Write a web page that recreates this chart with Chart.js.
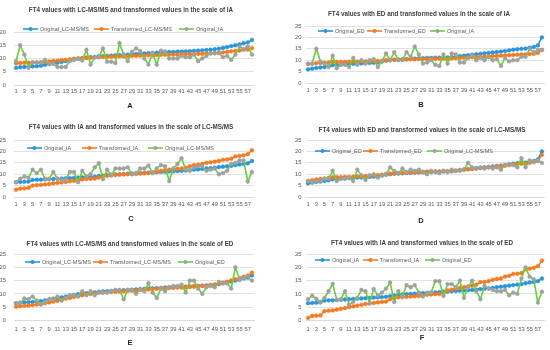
<!DOCTYPE html>
<html>
<head>
<meta charset="utf-8">
<script src="https://cdn.jsdelivr.net/npm/chart.js@4.4.1/dist/chart.umd.min.js"></script>
<style>
  html, body { margin: 0; padding: 0; background: #fff; }
  #wrap { position: relative; width: 550px; height: 350px; overflow: hidden; }
  #wrap canvas { position: absolute; }
</style>
</head>
<body>
<div id="wrap"></div>
<script>
// ==========================
// Data
// ==========================

const cases = [1, 2, 3, 4, 5, 6, 7, 8, 9, 10, 11, 12, 13, 14, 15, 16, 17, 18, 19, 20,
  21, 22, 23, 24, 25, 26, 27, 28, 29, 30, 31, 32, 33, 34, 35, 36, 37, 38, 39, 40,
  41, 42, 43, 44, 45, 46, 47, 48, 49, 50, 51, 52, 53, 54, 55, 56, 57, 58];

// original values, sorted
const lcSorted = [6.5, 6.7, 6.8, 6.9, 7.0, 7.1, 7.3, 7.6, 7.9, 8.2,
  8.4, 8.7, 9.0, 9.3, 9.6, 9.9, 10.1, 10.3, 10.5, 10.6,
  10.8, 10.9, 11.0, 11.1, 11.2, 11.3, 11.4, 11.5, 11.6, 11.7,
  11.8, 11.9, 12.0, 12.1, 12.2, 12.3, 12.4, 12.5, 12.5, 12.6,
  12.6, 12.7, 12.8, 12.9, 13.0, 13.1, 13.2, 13.3, 13.5, 13.7,
  14.0, 14.3, 14.7, 15.0, 15.3, 15.8, 16.1, 17.0];

const iaSorted = [6.5, 6.6, 6.7, 6.8, 7.5, 7.6, 7.6, 7.7, 7.8, 7.9,
  8.0, 8.1, 8.2, 8.3, 8.4, 8.5, 8.6, 8.7, 8.8, 8.9,
  9.2, 9.4, 9.6, 9.8, 9.9, 10.0, 10.1, 10.2, 10.3, 10.4,
  10.5, 10.6, 10.7, 10.8, 10.9, 11.0, 11.1, 11.2, 11.3, 11.4,
  11.5, 11.6, 11.8, 12.0, 12.1, 12.3, 12.5, 12.7, 12.9, 13.1,
  13.3, 13.5, 13.7, 14.0, 14.3, 14.5, 14.8, 15.8];

const edSorted = [6.0, 6.3, 6.6, 6.8, 7.0, 7.3, 7.8, 8.0, 8.1, 8.2,
  8.3, 8.4, 8.5, 8.6, 8.7, 8.8, 8.9, 9.1, 9.4, 9.8,
  10.0, 10.2, 10.3, 10.4, 10.5, 10.6, 10.7, 10.8, 10.9, 11.0,
  11.0, 11.1, 11.1, 11.2, 11.2, 11.3, 11.5, 11.8, 12.0, 12.2,
  12.4, 12.6, 12.8, 13.0, 13.2, 13.4, 13.6, 13.8, 14.0, 14.3,
  14.6, 14.8, 15.0, 15.1, 15.5, 15.8, 16.5, 20.0];

// A: LC-MS/MS -> IA
const transLcToIa = [8.2, 8.3, 8.4, 8.4, 8.5, 8.5, 8.6, 8.8, 8.9, 9.1,
  9.2, 9.4, 9.5, 9.7, 9.9, 10.0, 10.1, 10.2, 10.3, 10.4,
  10.5, 10.6, 10.6, 10.7, 10.7, 10.8, 10.8, 10.9, 11.0, 11.0,
  11.1, 11.1, 11.2, 11.2, 11.3, 11.4, 11.4, 11.5, 11.5, 11.5,
  11.6, 11.6, 11.7, 11.7, 11.8, 11.8, 11.9, 11.9, 12.0, 12.2,
  12.3, 12.5, 12.7, 12.9, 13.0, 13.3, 13.4, 13.9];
const iaInLcOrder = [9, 15, 11.5, 6.5, 8.5, 8.5, 8.5, 9.5, 8, 8,
  6.8, 6.8, 6.8, 9, 9.5, 10, 9.2, 13.3, 7.7, 10.5,
  10.5, 13.8, 8.8, 8.8, 8.3, 15.8, 11.5, 9, 12.5, 13.8,
  12.8, 10, 7.7, 12, 7.7, 13, 12.7, 10, 10, 10,
  11, 10.5, 10.5, 11.5, 9, 10, 11, 12, 12, 12,
  10.5, 11, 9.5, 11.5, 14.5, 13.5, 14.5, 11.5];

// B: ED -> IA
const transEdToIa = [8.3, 8.5, 8.7, 8.8, 8.9, 9.0, 9.2, 9.3, 9.3, 9.3,
  9.4, 9.4, 9.4, 9.5, 9.5, 9.5, 9.6, 9.7, 9.8, 10.0,
  10.1, 10.2, 10.2, 10.3, 10.3, 10.4, 10.4, 10.5, 10.5, 10.6,
  10.6, 10.6, 10.7, 10.7, 10.7, 10.8, 10.9, 11.0, 11.1, 11.2,
  11.3, 11.4, 11.5, 11.6, 11.7, 11.8, 11.9, 12.0, 12.1, 12.2,
  12.3, 12.4, 12.5, 12.5, 12.7, 12.8, 13.2, 14.5];
const iaInEdOrder = [8.5, 8.5, 15, 9.5, 8.5, 7, 12, 6.5, 8, 8,
  7, 11, 8, 10, 8.5, 10, 10.5, 7, 9.5, 13,
  10, 13.5, 10, 10, 13.5, 11.5, 16, 12.5, 8.5, 9,
  10, 8, 7.5, 12.5, 8.5, 13, 12.5, 9, 9, 11,
  12, 10, 11, 10, 11.5, 10, 10.5, 7.5, 11, 9.5,
  10, 10, 11.5, 11.5, 15, 13.5, 14.5, 14.5];

// C: IA -> LC-MS/MS
const transIaToLc = [3.2, 3.7, 3.8, 4.0, 5.0, 5.2, 5.3, 5.5, 5.7, 6.0,
  6.2, 6.4, 6.6, 6.9, 7.1, 7.4, 7.7, 7.9, 8.0, 8.1,
  8.5, 9.0, 9.3, 9.5, 9.7, 9.8, 9.9, 10.0, 10.0, 10.1,
  10.3, 10.4, 10.5, 10.7, 11.0, 11.5, 11.8, 12.0, 12.2, 12.4,
  12.5, 12.8, 13.5, 14.0, 14.2, 14.5, 15.0, 15.2, 15.5, 15.8,
  16.3, 16.5, 16.8, 17.8, 18.0, 18.3, 18.8, 20.5];
const lcInIaOrder = [6.5, 8, 9, 8.5, 12, 10.5, 12, 8, 8, 11,
  8, 7.5, 7.5, 11, 11, 6.5, 11.5, 9, 10, 13,
  14.8, 7.8, 12, 9.5, 12.5, 12.5, 12.5, 13, 10, 10.5,
  12.5, 12.5, 13.8, 10.5, 12.5, 14, 13.5, 7, 12.5, 14.5,
  17, 12, 11.5, 13, 13.5, 13.5, 11.5, 12, 12.5, 10,
  10.5, 11.5, 14.5, 15, 16, 16, 6.8, 11];

// D: ED -> LC-MS/MS
const transEdToLc = [7.0, 7.4, 7.7, 7.9, 8.1, 8.4, 8.6, 8.7, 8.7, 8.8,
  8.8, 8.9, 9.0, 9.1, 9.2, 9.3, 9.4, 9.6, 9.8, 10.1,
  10.3, 10.4, 10.5, 10.6, 10.7, 10.8, 10.9, 11.0, 11.0, 11.1,
  11.1, 11.2, 11.2, 11.3, 11.3, 11.4, 11.6, 11.8, 12.0, 12.2,
  12.3, 12.5, 12.7, 12.8, 13.0, 13.2, 13.3, 13.5, 13.7, 14.0,
  14.2, 14.4, 14.6, 14.7, 15.0, 15.3, 15.8, 18.5];
const lcInEdOrder = [7, 6.5, 7, 7, 8, 8, 11.5, 7, 8, 8,
  8.5, 7, 12, 9.5, 7.5, 9.5, 10, 8.5, 9.5, 10,
  13, 11.5, 10.5, 12.5, 11, 12, 11.5, 12, 11, 10,
  11.5, 11, 10.5, 11.5, 11, 12, 11.5, 11.5, 12, 15,
  13, 12.5, 13, 12.5, 13, 12.5, 13, 12, 14, 14.5,
  14, 13, 17, 13, 16, 15.5, 16, 15];

// E: LC-MS/MS -> ED
const transLcToEd = [5.2, 5.4, 5.5, 5.6, 5.8, 6.0, 6.2, 6.5, 6.8, 7.1,
  7.4, 7.8, 8.2, 8.5, 8.9, 9.2, 9.5, 9.8, 10.0, 10.2,
  10.4, 10.5, 10.6, 10.7, 10.8, 10.9, 11.0, 11.1, 11.2, 11.3,
  11.5, 11.6, 11.7, 11.8, 11.9, 12.0, 12.1, 12.2, 12.3, 12.4,
  12.4, 12.5, 12.6, 12.7, 12.9, 13.0, 13.1, 13.3, 13.5, 13.8,
  14.2, 14.6, 15.1, 15.5, 15.9, 16.5, 16.9, 18.0];
const edInLcOrder = [6.5, 6.5, 8.3, 8, 9, 7.5, 6, 7, 8, 8,
  9, 7.5, 8.5, 9.5, 9.5, 9, 11, 9.5, 11, 9.5,
  10.5, 10.5, 10.5, 11, 11.5, 11.5, 8, 11.5, 11.5, 10,
  11.5, 11, 14, 10.5, 8.5, 12, 11, 12.5, 13, 13,
  13.5, 10.5, 15, 15, 12, 10, 12.5, 13, 12.5, 14.5,
  14, 14, 12, 20, 15.5, 16, 16.5, 15];

// F: IA -> ED
const transIaToEd = [1.0, 1.7, 1.8, 1.9, 3.5, 3.7, 3.8, 4.1, 4.4, 4.7,
  5.0, 5.3, 5.6, 5.9, 6.2, 6.4, 6.6, 6.8, 7.0, 7.1,
  8.0, 8.5, 8.7, 8.8, 8.9, 9.0, 9.1, 9.2, 9.5, 9.7,
  9.8, 9.9, 10.0, 10.3, 11.3, 11.6, 12.0, 12.3, 12.5, 12.8,
  13.1, 13.5, 14.4, 14.5, 14.8, 15.3, 15.6, 15.8, 16.5, 16.8,
  17.5, 17.6, 17.8, 19.3, 19.5, 19.8, 20.4, 22.5];
const edInIaOrder = [8, 9.3, 8.2, 7, 8.5, 11, 13.8, 7.8, 8, 11,
  6, 7, 8.5, 11.5, 11, 6.5, 11.8, 9.5, 10.5, 12,
  14.3, 7, 11, 9, 13.3, 12.5, 13.3, 10.5, 9, 10.3,
  10.5, 14.8, 14.8, 9.3, 13.7, 13.7, 12.5, 15, 8.5, 12.5,
  15, 11, 8, 13, 12, 11.5, 11, 11, 11.5, 9.5,
  10.5, 10, 15.8, 20, 16.5, 15.5, 6.8, 10.8];

// ==========================
// Panels
// ==========================

const panels = [
  { letter: "A", x: 0, y: 0, w: 275, h: 115, area: { l: 14, r: 254, t: 32, b: 85 }, yMax: 20, xPad: 3, yPad: 8,
    title: "FT4 values with LC-MS/MS and transformed values in the scale of IA", titleX: 131, titleY: 10,
    legendY: 29, legendX: [23, 94, 179], letterX: 130, letterY: 106,
    names: ["Original_LC-MS/MS", "Transformed_LC-MS/MS", "Original_IA"],
    series: [lcSorted, transLcToIa, iaInLcOrder] },
  { letter: "B", x: 275, y: 0, w: 275, h: 115, area: { l: 31, r: 269, t: 26, b: 83 }, yMax: 25, xPad: 4, yPad: 4.5,
    title: "FT4 values with ED and transformed values in the scale of IA", titleX: 144, titleY: 14,
    legendY: 31, legendX: [43, 92, 155], letterX: 146, letterY: 105,
    names: ["Original_ED", "Transformed_ED", "Original_IA"],
    series: [edSorted, transEdToIa, iaInEdOrder] },
  { letter: "C", x: 0, y: 115, w: 275, h: 115, area: { l: 14, r: 254, t: 25, b: 82 }, yMax: 25, xPad: 4, yPad: 8,
    title: "FT4 values with IA and transformed values in the scale of LC-MS/MS", titleX: 131, titleY: 12.5,
    legendY: 33, legendX: [27, 82, 148], letterX: 131, letterY: 104,
    names: ["Original_IA", "Transformed_IA", "Original_LC-MS/MS"],
    series: [iaSorted, transIaToLc, lcInIaOrder] },
  { letter: "D", x: 275, y: 115, w: 275, h: 115, area: { l: 31, r: 269, t: 25, b: 82 }, yMax: 25, xPad: 4, yPad: 4.5,
    title: "FT4 values with ED and transformed values in the scale of LC-MS/MS", titleX: 147, titleY: 15,
    legendY: 36, legendX: [40, 88, 152], letterX: 146, letterY: 106,
    names: ["Original_ED", "Transformed_ED", "Original_LC-MS/MS"],
    series: [edSorted, transEdToLc, lcInEdOrder] },
  { letter: "E", x: 0, y: 230, w: 275, h: 120, area: { l: 14, r: 254, t: 24, b: 90.5 }, yMax: 25, xPad: 5.5, yPad: 8,
    title: "FT4 values with LC-MS/MS and transformed values in the scale of ED", titleX: 130, titleY: 14,
    legendY: 32, legendX: [25, 93, 178], letterX: 130, letterY: 113,
    names: ["Original_LC-MS/MS", "Transformed_LC-MS/MS", "Original_ED"],
    series: [lcSorted, transLcToEd, edInLcOrder] },
  { letter: "F", x: 275, y: 230, w: 275, h: 120, area: { l: 31, r: 269, t: 24, b: 90.5 }, yMax: 25, xPad: 5.5, yPad: 4.5,
    title: "FT4 values with IA and transformed values in the scale of ED", titleX: 147, titleY: 13,
    legendY: 30, legendX: [40, 88, 150], letterX: 147, letterY: 108,
    names: ["Original_IA", "Transformed_IA", "Original_ED"],
    series: [iaSorted, transIaToEd, edInIaOrder] },
];

const FONT = '"Liberation Sans", Arial, sans-serif';
const LINE_COLORS = ["#2896DC", "#F57B20", "#66D136"];
const MARKER_COLORS = ["#2896DC", "#F57B20", "#A0A0A0"];

// title, Excel-style legend (line + marker) and panel letter
const overlay = {
  id: "overlay",
  afterDraw(chart, args, o) {
    const ctx = chart.ctx;
    ctx.save();
    ctx.textBaseline = "middle";

    ctx.fillStyle = "#404040";
    ctx.textAlign = "center";
    ctx.font = "bold 6.3px " + FONT;
    ctx.fillText(o.title, o.titleX, o.titleY);

    ctx.textAlign = "left";
    ctx.font = "5.5px " + FONT;
    chart.data.datasets.forEach((ds, i) => {
      const x = o.legendX[i];
      const y = o.legendY;
      ctx.strokeStyle = ds.borderColor;
      ctx.lineWidth = 1.6;
      ctx.beginPath();
      ctx.moveTo(x, y);
      ctx.lineTo(x + 15, y);
      ctx.stroke();
      ctx.fillStyle = ds.pointBackgroundColor;
      ctx.beginPath();
      ctx.arc(x + 7.5, y, 2, 0, Math.PI * 2);
      ctx.fill();
      ctx.fillStyle = "#595959";
      ctx.fillText(ds.label, x + 17, y + 0.3);
    });

    ctx.fillStyle = "#262626";
    ctx.textAlign = "center";
    ctx.font = "bold 7.5px " + FONT;
    ctx.fillText(o.letter, o.letterX, o.letterY);
    ctx.restore();
  },
};

// ==========================
// Build charts
// ==========================

const wrap = document.getElementById("wrap");

panels.forEach((p) => {
  const canvas = document.createElement("canvas");
  canvas.width = p.w;
  canvas.height = p.h;
  canvas.style.left = p.x + "px";
  canvas.style.top = p.y + "px";
  canvas.style.width = p.w + "px";
  canvas.style.height = p.h + "px";
  wrap.appendChild(canvas);

  new Chart(canvas, {
    type: "line",
    data: {
      labels: cases,
      datasets: p.series.map((values, i) => ({
        label: p.names[i],
        data: values,
        borderColor: LINE_COLORS[i],
        backgroundColor: MARKER_COLORS[i],
        pointBackgroundColor: MARKER_COLORS[i],
        pointBorderColor: MARKER_COLORS[i],
        pointRadius: 1.9,
        pointBorderWidth: 0.5,
        borderWidth: 1.6,
        tension: 0,
        fill: false,
        order: 3 - i,
      })),
    },
    options: {
      responsive: false,
      animation: false,
      devicePixelRatio: 1,
      layout: { padding: { top: p.area.t, right: p.w - p.area.r, bottom: 0, left: 0 } },
      plugins: {
        legend: { display: false },
        title: { display: false },
        tooltip: { enabled: false },
        overlay: {
          title: p.title, titleX: p.titleX, titleY: p.titleY,
          legendX: p.legendX, legendY: p.legendY,
          letter: p.letter, letterX: p.letterX, letterY: p.letterY,
        },
      },
      scales: {
        x: {
          type: "category",
          offset: true,
          grid: { display: false, drawTicks: false },
          border: { display: true, color: "#D9D9D9", width: 0.8 },
          ticks: {
            autoSkip: false,
            maxRotation: 0,
            minRotation: 0,
            padding: p.xPad,
            color: "#595959",
            font: { size: 5.8, family: FONT },
            callback: (v, i) => (i % 2 === 0 ? cases[i] : ""),
          },
          afterFit: (s) => { s.height = p.h - p.area.b; },
        },
        y: {
          min: 0,
          max: p.yMax,
          grid: { color: "#D9D9D9", lineWidth: 0.8, drawTicks: false },
          border: { display: false },
          ticks: {
            stepSize: 5,
            padding: p.yPad,
            color: "#595959",
            font: { size: 5.8, family: FONT },
          },
          afterFit: (s) => { s.width = p.area.l; },
        },
      },
    },
    plugins: [overlay],
  });
});
</script>
</body>
</html>
